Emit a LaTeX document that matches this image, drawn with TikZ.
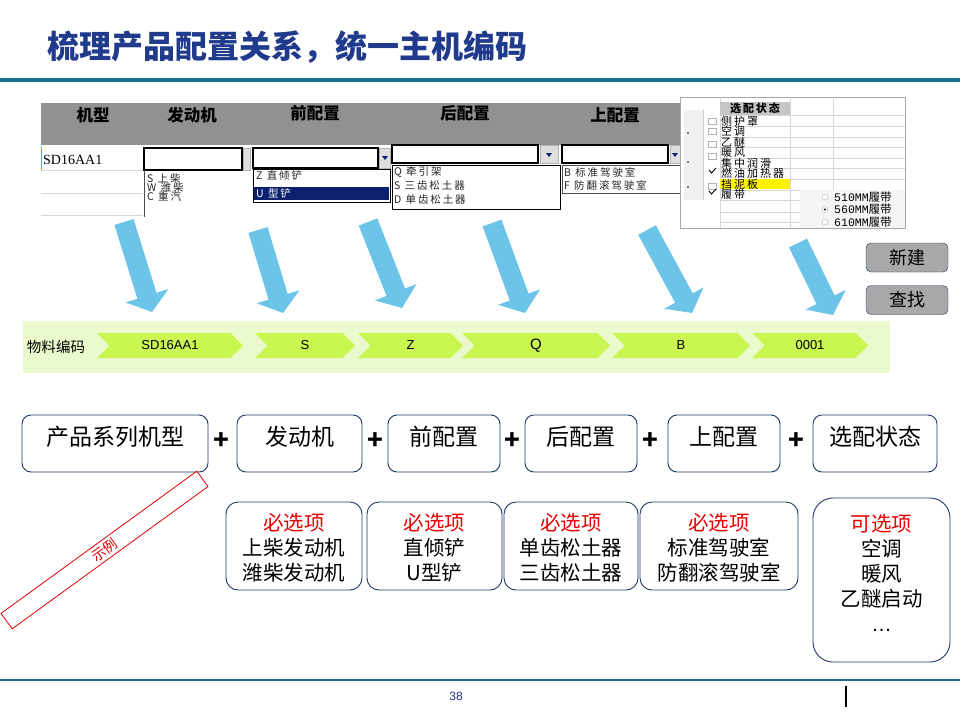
\documentclass[tikz,border=0pt]{standalone}
\usepackage{fontspec}
\setmainfont{Noto Sans CJK SC}
\newfontfamily\arialf{Liberation Sans}
\newfontfamily\serf{Liberation Serif}
\newfontfamily\monof{Liberation Mono}
\newfontfamily\optf{Noto Sans CJK SC}[LetterSpace=18]
\usetikzlibrary{arrows.meta,shapes.symbols}
\definecolor{titleblue}{RGB}{32,58,140}
\definecolor{rulecol}{RGB}{27,107,138}
\definecolor{boxline}{RGB}{31,56,100}
\definecolor{arrowblue}{RGB}{108,196,232}
\definecolor{chevgreen}{RGB}{202,246,82}
\definecolor{palegreen}{RGB}{234,250,204}
\definecolor{hdrgray}{RGB}{145,145,145}
\definecolor{gridgray}{RGB}{215,215,215}
\definecolor{selnavy}{RGB}{12,32,112}
\definecolor{btngray}{RGB}{168,168,168}
\definecolor{redtxt}{RGB}{230,0,0}
\definecolor{pagenum}{RGB}{31,56,120}
\begin{document}
\begin{tikzpicture}[x=1pt,y=-1pt,
  hdr/.style={font=\fontsize{16.5}{17}\selectfont\bfseries, inner sep=0},
  li/.style={anchor=west, font=\optf\fontsize{10.5}{10.5}\selectfont, inner sep=0, text=black!85},
  opt/.style={anchor=west, font=\optf\fontsize{11}{11}\selectfont, inner sep=0},
  combo/.style={draw=black, line width=1.4, fill=white},
  ddbtn/.style={fill=gray!25, draw=gray!60},
  bluearrow/.style={draw=arrowblue, line width=20pt, -{Triangle[length=17pt,width=44pt]}},
  chev/.style={signal, signal from=west, signal to=east, fill=chevgreen, minimum height=25pt, inner sep=0, font=\arialf\fontsize{13}{14}\selectfont},
  btn/.style={draw=boxline, fill=btngray, rounded corners=5pt, minimum width=82pt, minimum height=29pt, font=\fontsize{18}{20}\selectfont},
  topbox/.style={draw=boxline, line width=0.9pt, rounded corners=9pt, minimum height=57pt},
  toptext/.style={font=\fontsize{23}{25}\selectfont, inner sep=0},
  plus/.style={font=\fontsize{26}{28}\selectfont\bfseries, inner sep=0},
  optbox/.style={draw=boxline, line width=0.9pt, rounded corners=12pt, minimum height=88pt},
  opttext/.style={font=\fontsize{20.5}{25}\selectfont, align=center, inner sep=0},
  exbox/.style={draw=redtxt, line width=0.8pt, minimum width=242pt, minimum height=19pt, rotate=36, inner sep=0, text=redtxt, font=\fontsize{14}{15}\selectfont}
]
\useasboundingbox (0,0) rectangle (960,720);
\fill[white] (0,0) rectangle (960,720);

% title and rules
\node[anchor=west, font=\fontsize{32}{34}\selectfont\bfseries, text=titleblue, inner sep=0] (title) at (47,47) {梳理产品配置关系，统一主机编码};
\draw[rulecol, line width=4pt] (0,80) -- (960,80);
\draw[rulecol, line width=2.6pt] (0,680) -- (960,680);
\node[font=\arialf\fontsize{12}{13}\selectfont, text=pagenum, inner sep=0] (pg) at (456,696) {38};
\draw[black, line width=1.3pt] (846,686) -- (846,707);

% ===== Excel-like table =====
\fill[hdrgray] (41,103) rectangle (680,145);
\node[hdr] (h1) at (93,115) {机型};
\node[hdr] (h2) at (192,115) {发动机};
\node[hdr] (h3) at (315,113) {前配置};
\node[hdr] (h4) at (465,113) {后配置};
\node[hdr] (h5) at (615,115) {上配置};
\draw[gridgray] (41,170) -- (143,170) (41,193) -- (143,193) (41,215) -- (143,215);
\draw[orange, line width=0.8pt] (41.5,147) -- (41.5,170);
\node[anchor=west, inner sep=0, font=\serf\fontsize{14}{15}\selectfont] (mt) at (43,160) {SD16AA1};

% combo 1 : engine
\draw[combo] (144,148) rectangle (242,170);
\fill[ddbtn] (243,148) rectangle (250,170);
\draw[black!70] (144,170) -- (144,217);
\node[li] (l11) at (147,178.5) {S\ 上柴};
\node[li] (l12) at (147,187.5) {W\ 潍柴};
\node[li] (l13) at (147,196.5) {C\ 重汽};

% combo 2 : front
\draw[combo] (253,148) rectangle (378,168);
\fill[ddbtn] (379,148) rectangle (390,168);
\fill[selnavy] (382,156) -- (388,156) -- (385,160) -- cycle;
\draw[black, fill=white] (253,169) rectangle (390,202);
\fill[selnavy] (254,187) rectangle (389,200);
\node[li] (l21) at (256,176) {Z\ 直倾铲};
\node[li, text=white] (l22) at (256,193.5) {U\ 型铲};

% combo 3 : rear
\draw[combo] (392,145) rectangle (538,163);
\fill[ddbtn] (540,145) rectangle (558,163);
\fill[selnavy] (546,153) -- (552,153) -- (549,157) -- cycle;
\draw[black, fill=white] (392,165) rectangle (560,209);
\node[li] (l31) at (394,172) {Q\ 牵引架};
\node[li] (l32) at (394,186) {S\ 三齿松土器};
\node[li] (l33) at (394,200) {D\ 单齿松土器};

% combo 4 : upper
\draw[combo] (562,145) rectangle (668,163);
\fill[ddbtn] (670,145) rectangle (680,163);
\fill[selnavy] (672,153) -- (678,153) -- (675,157) -- cycle;
\draw[black!70, fill=white] (562,165) rectangle (680,193);
\node[li] (l41) at (564,172) {B\ 标准驾驶室};
\node[li] (l42) at (564,185) {F\ 防翻滚驾驶室};

% options panel
\draw[gray!70, fill=white] (680,97) rectangle (905,228);
\foreach \yy in {115,126,137,147,158,168,179,190,200,212,222}
  \draw[gridgray] (720,\yy) -- (905,\yy);
\draw[gridgray] (720,97) -- (720,228) (790,97) -- (790,228) (833,97) -- (833,190);
\fill[gray!12] (684,110) rectangle (703,200);
\draw[gray!40] (703,110) -- (703,200);
\foreach \yy in {133,162,187} \fill[black] (688,\yy) circle (0.8);
\fill[gray!45] (720,102) rectangle (790,115);
\node[font=\optf\fontsize{11}{11}\selectfont\bfseries, inner sep=0] (oh) at (755,108.5) {选配状态};
\fill[yellow] (720,179) rectangle (790,189);
\node[opt] (o1) at (721,121) {侧护罩};
\node[opt] (o2) at (721,131.5) {空调};
\node[opt] (o3) at (721,142) {乙醚};
\node[opt] (o4) at (721,152.5) {暖风};
\node[opt] (o5) at (721,163) {集中润滑};
\node[opt] (o6) at (721,173.5) {燃油加热器};
\node[opt] (o7) at (721,184) {挡泥板};
\node[opt] (o8) at (721,194.5) {履带};
\foreach \yy in {118,128,141,153,183} \draw[gray!60, fill=white] (708,\yy) rectangle (716,\yy+6);
\draw[black, line width=0.9pt] (709,170) -- (711.5,173) -- (716,168);
\draw[black, line width=0.9pt] (709,191) -- (711.5,194) -- (716,189);
\fill[gray!8] (800,190) rectangle (905,228);
\draw[gray!60, fill=white] (825,197) circle (3) (825,209.5) circle (3) (825,222) circle (3);
\fill[black] (825,209.5) circle (1.1);
\node[opt, font=\fontsize{11.5}{12}\selectfont] (r1) at (834,197) {{\monof 510MM}履带};
\node[opt, font=\fontsize{11.5}{12}\selectfont] (r2) at (834,209.5) {{\monof 560MM}履带};
\node[opt, font=\fontsize{11.5}{12}\selectfont] (r3) at (834,222) {{\monof 610MM}履带};

% buttons
\node[btn] (bnew) at (907,257.5) {新建};
\node[btn] (bfind) at (907,300) {查找};

% ===== blue arrows =====
\coordinate (a1s) at (124,222); \coordinate (a1e) at (152,312);
\coordinate (a2s) at (258,230); \coordinate (a2e) at (283,313);
\coordinate (a3s) at (368,222); \coordinate (a3e) at (402,308);
\coordinate (a4s) at (492,223); \coordinate (a4e) at (525,313);
\coordinate (a5s) at (647,230); \coordinate (a5e) at (692,313);
\coordinate (a6s) at (798,243); \coordinate (a6e) at (833,315);
\foreach \i in {1,...,6} \draw[bluearrow] (a\i s) -- (a\i e);

% ===== material code band =====
\fill[palegreen] (23,321) rectangle (890,373);
\node[font=\fontsize{14.5}{15}\selectfont, inner sep=0] (mc) at (56,347) {物料编码};
\node[chev, minimum width=146pt] (c1) at (170,345.5) {SD16AA1};
\node[chev, minimum width=100pt] (c2) at (305,345.5) {S};
\node[chev, minimum width=105pt] (c3) at (410.5,345.5) {Z};
\node[chev, minimum width=148pt] (c4) at (536,345.5) {\fontsize{15}{16}\selectfont Q};
\node[chev, minimum width=138pt] (c5) at (681,345.5) {B};
\node[chev, minimum width=116pt] (c6) at (810,345.5) {0001};

% ===== top row boxes =====
\node[topbox, minimum width=186pt] (b1) at (115,443.5) {};
\node[topbox, minimum width=125pt] (b2) at (299.5,443.5) {};
\node[topbox, minimum width=112pt] (b3) at (444,443.5) {};
\node[topbox, minimum width=112pt] (b4) at (581,443.5) {};
\node[topbox, minimum width=112pt] (b5) at (724,443.5) {};
\node[topbox, minimum width=124pt] (b6) at (875,443.5) {};
\node[toptext] (t1) at (115,437) {产品系列机型};
\node[toptext] (t2) at (299.5,437) {发动机};
\node[toptext] (t3) at (444,437) {前配置};
\node[toptext] (t4) at (581,437) {后配置};
\node[toptext] (t5) at (724,437) {上配置};
\node[toptext] (t6) at (875,437) {选配状态};
\node[plus] (p1) at (221,441) {+};
\node[plus] (p2) at (375,441) {+};
\node[plus] (p3) at (512,441) {+};
\node[plus] (p4) at (650,441) {+};
\node[plus] (p5) at (796,441) {+};

% ===== option boxes =====
\node[optbox, minimum width=136pt] (ob2) at (294,546) {};
\node[optbox, minimum width=135pt] (ob3) at (434.5,546) {};
\node[optbox, minimum width=134pt] (ob4) at (571,546) {};
\node[optbox, minimum width=158pt] (ob5) at (719,546) {};
\node[optbox, minimum width=137pt, minimum height=164pt, rounded corners=20pt] (ob6) at (881.5,580) {};
\node[opttext] (ot2) at (294,548) {\textcolor{redtxt}{必选项}\\上柴发动机\\潍柴发动机};
\node[opttext] (ot3) at (434.5,548) {\textcolor{redtxt}{必选项}\\直倾铲\\U型铲};
\node[opttext] (ot4) at (571,548) {\textcolor{redtxt}{必选项}\\单齿松土器\\三齿松土器};
\node[opttext] (ot5) at (719,548) {\textcolor{redtxt}{必选项}\\标准驾驶室\\防翻滚驾驶室};
\node[opttext] (ot6) at (881.5,573) {\textcolor{redtxt}{可选项}\\空调\\暖风\\乙醚启动\\{\arialf …}};

% example stamp
\node[exbox] (ex) at (104.5,550) {示例};
\end{tikzpicture}
\end{document}
